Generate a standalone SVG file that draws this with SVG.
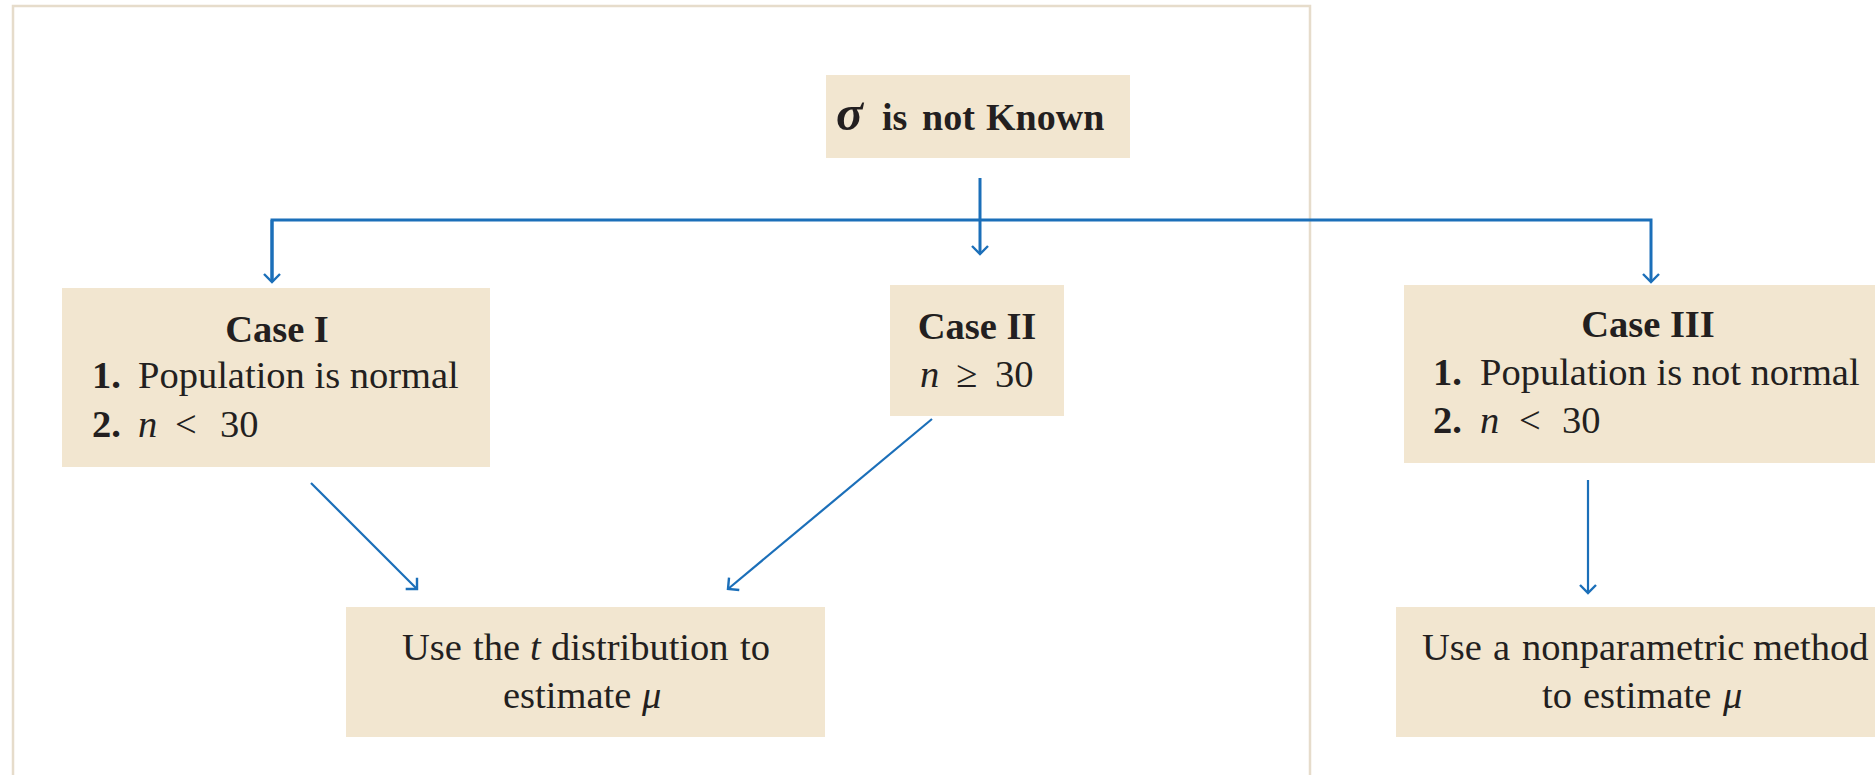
<svg xmlns="http://www.w3.org/2000/svg" width="1875" height="775" viewBox="0 0 1875 775">
<style>
.box{fill:#f2e6d0}
.t{font-family:"Liberation Serif","Times New Roman",serif;font-size:38.5px;fill:#231f20}
.b{font-weight:bold}
.i{font-style:italic}
.c{stroke:#1b6fb9;stroke-width:2.2;fill:none}
.h{stroke-width:3}
</style>
<defs>
<marker id="ah" viewBox="0 0 20 20" refX="10" refY="10" markerWidth="20" markerHeight="20" markerUnits="userSpaceOnUse" orient="auto">
<polyline points="2,2 10,10 2,18" fill="none" stroke="#1b6fb9" stroke-width="2.4"/>
</marker>
</defs>
<rect x="0" y="0" width="1875" height="775" fill="#ffffff"/>
<path d="M13,790 V6 H1310 V790" fill="none" stroke="#e6dccb" stroke-width="2.5"/>
<g id="connectors">
<line class="c h" x1="980" y1="178" x2="980" y2="254" marker-end="url(#ah)"/>
<polyline class="c h" points="272,282 272,220 1651,220 1651,282" marker-end="url(#ah)"/>
<line class="c h" x1="272" y1="220" x2="272" y2="282" marker-end="url(#ah)"/>
<line class="c" x1="311" y1="483" x2="417" y2="589" marker-end="url(#ah)"/>
<line class="c" x1="932" y1="419" x2="728" y2="589" marker-end="url(#ah)"/>
<line class="c" x1="1588" y1="480" x2="1588" y2="593" marker-end="url(#ah)"/>
</g>
<g id="sigma">
<rect class="box" x="826" y="75" width="304" height="83"/>
<text class="t b" y="130" style="font-size:38px"><tspan class="i" x="836" style="font-size:50px">σ</tspan><tspan x="882">is</tspan><tspan x="922">not</tspan><tspan x="986">Known</tspan></text>
</g>
<g id="case1">
<rect class="box" x="62" y="288" width="428" height="179"/>
<text class="t b" x="277" y="342" text-anchor="middle">Case I</text>
<text class="t" y="388"><tspan class="b" x="92">1.</tspan><tspan x="138">Population is normal</tspan></text>
<text class="t" y="437"><tspan class="b" x="92">2.</tspan><tspan class="i" x="138">n</tspan><tspan x="175">&lt;</tspan><tspan x="220">30</tspan></text>
</g>
<g id="case2">
<rect class="box" x="890" y="285" width="174" height="131"/>
<text class="t b" x="977" y="339" text-anchor="middle">Case II</text>
<text class="t" y="387"><tspan class="i" x="920">n</tspan><tspan x="956">≥</tspan><tspan x="995">30</tspan></text>
</g>
<g id="case3">
<rect class="box" x="1404" y="285" width="480" height="178"/>
<text class="t b" x="1648" y="337" text-anchor="middle">Case III</text>
<text class="t" y="385"><tspan class="b" x="1433">1.</tspan><tspan x="1480">Population is not normal</tspan></text>
<text class="t" y="433"><tspan class="b" x="1433">2.</tspan><tspan class="i" x="1480">n</tspan><tspan x="1519">&lt;</tspan><tspan x="1562">30</tspan></text>
</g>
<g id="tdist">
<rect class="box" x="346" y="607" width="479" height="130"/>
<text class="t" y="660"><tspan x="402">Use</tspan><tspan x="473">the</tspan><tspan class="i" x="530">t</tspan><tspan x="551">distribution</tspan><tspan x="740">to</tspan></text>
<text class="t" y="708"><tspan x="503">estimate</tspan><tspan class="i" x="642">μ</tspan></text>
</g>
<g id="nonparam">
<rect class="box" x="1396" y="607" width="490" height="130"/>
<text class="t" y="660"><tspan x="1422">Use</tspan><tspan x="1493">a</tspan><tspan x="1522">nonparametric</tspan><tspan x="1753">method</tspan></text>
<text class="t" y="708"><tspan x="1542">to</tspan><tspan x="1583">estimate</tspan><tspan class="i" x="1723">μ</tspan></text>
</g>
</svg>
